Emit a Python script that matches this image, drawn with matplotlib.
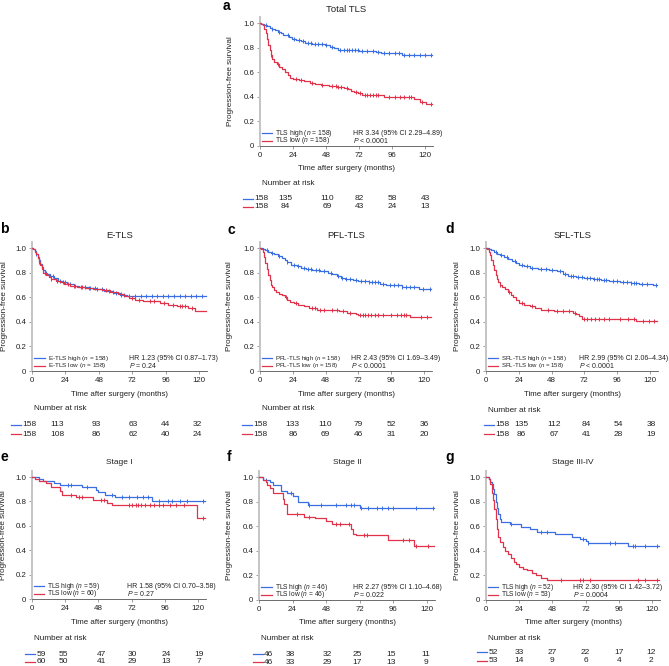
import matplotlib
matplotlib.use('Agg')
import matplotlib.pyplot as plt
import numpy as np

plt.rcParams['font.family'] = ['Liberation Sans', 'DejaVu Sans']
plt.rcParams['mathtext.fontset'] = 'custom'
plt.rcParams['mathtext.it'] = 'Liberation Sans:italic'
plt.rcParams['mathtext.rm'] = 'Liberation Sans'

# ---------------- data ----------------
a_high_t = [1, 3, 5, 7, 9, 11, 13, 15, 17, 19, 21, 23, 26, 30, 33, 38, 43, 47, 51, 54, 57, 60, 72, 84, 88, 103]
a_high_s = [0.994, 0.987, 0.975, 0.962, 0.955, 0.943, 0.930, 0.918, 0.905, 0.899, 0.886, 0.873, 0.860, 0.853,
            0.840, 0.833, 0.826, 0.819, 0.805, 0.798, 0.784, 0.777, 0.770, 0.762, 0.755, 0.740]
a_high_c = [4, 9, 14, 20, 25, 28, 31, 35, 37, 40, 42, 45, 48, 52, 58, 61, 63, 65, 67, 69, 71, 74, 78, 82, 86,
            90, 94, 98, 101, 105, 108, 112, 116, 120, 124]
a_low_t = [1, 2, 3, 4, 5, 6, 7, 8, 9, 10, 12, 14, 16, 18, 20, 22, 24, 28, 32, 36, 40, 44, 50, 56, 61, 64, 66,
           68, 71, 74, 90, 112, 116, 121]
a_low_s = [0.99, 0.98, 0.95, 0.92, 0.87, 0.82, 0.78, 0.74, 0.71, 0.68, 0.665, 0.645, 0.625, 0.60, 0.575, 0.555,
           0.545, 0.535, 0.525, 0.515, 0.505, 0.495, 0.487, 0.480, 0.470, 0.460, 0.450, 0.440, 0.430, 0.415,
           0.395, 0.38, 0.36, 0.345]
a_low_c = [8, 13, 26, 30, 38, 45, 52, 55, 57, 59, 63, 70, 73, 76, 78, 80, 82, 84, 86, 94, 98, 102, 105, 108,
           110, 118, 124]

b_high_t = [1, 2, 3, 4, 5, 6, 7, 8, 9, 11, 13, 16, 19, 22, 25, 30, 34, 40, 46, 52, 58, 63, 68]
b_high_s = [0.99, 0.975, 0.955, 0.93, 0.90, 0.87, 0.845, 0.82, 0.80, 0.785, 0.77, 0.755, 0.735, 0.72, 0.71,
            0.695, 0.685, 0.675, 0.665, 0.65, 0.635, 0.62, 0.61]
b_high_c = [3, 7, 10, 15, 20, 24, 27, 31, 35, 38, 42, 45, 50, 55, 60, 64, 66, 70, 74, 78, 82, 86, 90, 94, 98,
            102, 106, 110, 114, 118, 122]
b_low_t = [1, 2, 3, 4, 5, 6, 7, 8, 10, 12, 14, 17, 20, 23, 27, 32, 38, 44, 50, 56, 62, 66, 70, 74, 80, 92, 98,
           104, 112, 117]
b_low_s = [0.99, 0.97, 0.95, 0.92, 0.89, 0.86, 0.83, 0.80, 0.78, 0.765, 0.75, 0.735, 0.72, 0.705, 0.695, 0.685,
           0.675, 0.665, 0.655, 0.645, 0.625, 0.61, 0.595, 0.58, 0.57, 0.555, 0.54, 0.53, 0.515, 0.49]
b_low_c = [5, 9, 14, 18, 22, 26, 30, 36, 41, 47, 53, 58, 64, 72, 77, 85, 88, 95, 101, 106, 108, 110, 115]

c_high_t = [2, 4, 6, 8, 10, 13, 16, 18, 20, 23, 27, 30, 34, 38, 44, 50, 53, 56, 59, 62, 68, 72, 80, 88, 92,
            104, 116]
c_high_s = [0.99, 0.98, 0.97, 0.96, 0.95, 0.935, 0.92, 0.90, 0.885, 0.865, 0.85, 0.84, 0.83, 0.82, 0.81, 0.80,
            0.785, 0.77, 0.76, 0.75, 0.74, 0.73, 0.72, 0.71, 0.70, 0.685, 0.665]
c_high_c = [5, 9, 14, 20, 25, 28, 32, 35, 37, 41, 43, 47, 52, 57, 60, 63, 66, 70, 74, 77, 80, 82, 84, 86, 90,
            95, 98, 101, 104, 107, 110, 113, 119, 124]
c_low_t = [1, 2, 3, 4, 5, 6, 7, 8, 9, 10, 12, 14, 16, 18, 20, 22, 25, 28, 32, 36, 42, 50, 58, 64, 68, 70, 72, 110]
c_low_s = [0.99, 0.97, 0.93, 0.88, 0.83, 0.78, 0.74, 0.70, 0.68, 0.66, 0.645, 0.63, 0.615, 0.60, 0.58, 0.565,
           0.55, 0.54, 0.525, 0.51, 0.50, 0.495, 0.485, 0.475, 0.468, 0.46, 0.455, 0.44]
c_low_c = [19, 26, 38, 40, 44, 47, 53, 56, 61, 66, 73, 75, 77, 79, 81, 84, 86, 90, 96, 100, 103, 105, 107,
           118, 122]

d_high_t = [2, 4, 6, 8, 10, 13, 16, 19, 22, 24, 28, 32, 38, 46, 52, 56, 60, 66, 72, 78, 84, 90, 98, 106, 112, 122]
d_high_s = [0.99, 0.98, 0.97, 0.955, 0.94, 0.925, 0.91, 0.895, 0.88, 0.86, 0.85, 0.84, 0.83, 0.82, 0.81, 0.79,
            0.775, 0.765, 0.755, 0.75, 0.74, 0.73, 0.725, 0.715, 0.71, 0.70]
d_high_c = [7, 11, 15, 21, 26, 30, 34, 40, 44, 48, 54, 58, 62, 64, 67, 70, 74, 76, 79, 81, 83, 86, 88, 93, 96,
            100, 103, 106, 108, 110, 114, 118, 124]
d_low_t = [1, 2, 3, 4, 5, 6, 7, 8, 9, 10, 12, 14, 16, 18, 20, 22, 24, 28, 32, 36, 40, 44, 50, 58, 64, 66, 68,
           70, 110]
d_low_s = [0.99, 0.97, 0.94, 0.90, 0.86, 0.82, 0.78, 0.75, 0.72, 0.70, 0.685, 0.665, 0.645, 0.62, 0.60, 0.575,
           0.55, 0.54, 0.53, 0.51, 0.50, 0.495, 0.49, 0.485, 0.475, 0.465, 0.45, 0.425, 0.405]
d_low_c = [10, 17, 26, 34, 45, 52, 56, 61, 65, 72, 74, 77, 80, 83, 86, 90, 98, 104, 108, 115, 119, 123]

e_high_t = [5, 8, 16, 20, 36, 46, 48, 53, 60, 87]
e_high_s = [0.983, 0.966, 0.949, 0.932, 0.915, 0.895, 0.875, 0.855, 0.835, 0.80]
e_high_c = [26, 28, 40, 58, 65, 70, 76, 80, 84, 92, 98, 101, 107, 112, 124]
e_low_t = [2, 5, 10, 14, 20, 22, 32, 44, 54, 58, 119]
e_low_s = [0.983, 0.967, 0.95, 0.917, 0.883, 0.85, 0.833, 0.81, 0.79, 0.77, 0.66]
e_low_c = [28, 34, 36, 50, 52, 70, 72, 75, 77, 79, 82, 85, 88, 92, 95, 100, 104, 110, 124]

f_high_t = [3, 8, 10, 16, 20, 24, 28, 35, 72]
f_high_s = [0.978, 0.956, 0.934, 0.89, 0.868, 0.845, 0.80, 0.776, 0.745]
f_high_c = [5, 23, 36, 44, 55, 62, 66, 68, 73, 78, 84, 88, 92, 96, 112, 124]
f_low_t = [3, 5, 6, 8, 10, 17, 18, 20, 32, 40, 48, 52, 66, 67, 69, 92, 111]
f_low_s = [0.978, 0.956, 0.934, 0.912, 0.868, 0.82, 0.78, 0.70, 0.678, 0.67, 0.645, 0.62, 0.58, 0.54, 0.53,
           0.49, 0.435]
f_low_c = [27, 36, 55, 58, 64, 75, 77, 103, 107, 112, 121]

g_high_t = [2, 3, 4, 5, 6, 7, 8, 9, 10, 11, 17, 25, 32, 37, 50, 62, 68, 72, 74, 103]
g_high_s = [0.98, 0.96, 0.94, 0.90, 0.86, 0.80, 0.75, 0.70, 0.66, 0.635, 0.615, 0.595, 0.575, 0.555, 0.535,
            0.515, 0.495, 0.48, 0.465, 0.44]
g_high_c = [18, 40, 44, 70, 74, 90, 93, 106, 108, 115, 124]
g_low_t = [2, 3, 4, 5, 6, 7, 8, 9, 10, 12, 14, 16, 18, 20, 22, 24, 27, 30, 33, 36, 40, 44]
g_low_s = [0.98, 0.94, 0.87, 0.81, 0.74, 0.66, 0.58, 0.51, 0.47, 0.43, 0.40, 0.37, 0.34, 0.31, 0.29, 0.27,
           0.255, 0.24, 0.22, 0.20, 0.18, 0.16]
g_low_c = [54, 68, 70, 75, 110, 115, 124]

risk_times = [0, 24, 48, 72, 96, 120]
a_risk_hi = [158, 135, 110, 82, 58, 43]; a_risk_lo = [158, 84, 69, 43, 24, 13]
b_risk_hi = [158, 113, 93, 63, 44, 32];  b_risk_lo = [158, 108, 86, 62, 40, 24]
c_risk_hi = [158, 133, 110, 79, 52, 36]; c_risk_lo = [158, 86, 69, 46, 31, 20]
d_risk_hi = [158, 135, 112, 84, 54, 38]; d_risk_lo = [158, 86, 67, 41, 28, 19]
e_risk_hi = [59, 55, 47, 30, 24, 19];    e_risk_lo = [60, 50, 41, 29, 13, 7]
f_risk_hi = [46, 38, 32, 25, 15, 11];    f_risk_lo = [46, 33, 29, 17, 13, 9]
g_risk_hi = [52, 33, 27, 22, 17, 12];    g_risk_lo = [53, 14, 9, 6, 4, 2]

titles = ['Total TLS', 'E-TLS', 'PFL-TLS', 'SFL-TLS', 'Stage I', 'Stage II', 'Stage III-IV']
group_names = ['TLS', 'E-TLS', 'PFL-TLS', 'SFL-TLS', 'TLS', 'TLS', 'TLS']
n_hi = [158, 158, 158, 158, 59, 46, 52]
n_lo = [158, 158, 158, 158, 60, 46, 53]
hr_texts = ['HR 3.34 (95% CI 2.29–4.89)', 'HR 1.23 (95% CI 0.87–1.73)', 'HR 2.43 (95% CI 1.69–3.49)',
            'HR 2.99 (95% CI 2.06–4.34)', 'HR 1.58 (95% CI 0.70–3.58)', 'HR 2.27 (95% CI 1.10–4.68)',
            'HR 2.30 (95% CI 1.42–3.72)']
p_texts = ['< 0.0001', '= 0.24', '< 0.0001', '< 0.0001', '= 0.27', '= 0.022', '= 0.0004']

# ---------------- style / layout ----------------
W, H = 669, 666
BLUE = '#3a6fe2'
RED = '#e0334a'
END = 125
XMAX = 126

fig = plt.figure(figsize=(W / 100, H / 100), dpi=100)

def fx(px):
    return px / W

def fy(py):
    return 1 - py / H

layout = [
    dict(left=260, y1=23, y0=146, ppm=1.375, letter='a', lxy=(226, 6), hrx=67.6, ylx=231, lfs=4.9,
         ty=9, xly=169, nary=183, r1=199, r2=206.5, cols=[1, 18.5, 49, 72, 96, 120], tfs=6.8),
    dict(left=32, y1=248, y0=371, ppm=1.392, letter='b', lxy=(4, 229), hrx=70, ylx=5, lfs=4.6,
         ty=235, xly=394, nary=408.5, r1=425, r2=434, cols=[-2, 18, 46, 73, 96, 119], tfs=6.8),
    dict(left=260, y1=248, y0=371, ppm=1.367, letter='c', lxy=(231, 230), hrx=66.5, ylx=230, lfs=4.4,
         ty=235, xly=394, nary=409, r1=425, r2=434, cols=[0.4, 24, 48, 72, 96, 120], tfs=6.8),
    dict(left=486, y1=248, y0=371, ppm=1.367, letter='d', lxy=(450, 229), hrx=68, ylx=457, lfs=4.4,
         ty=235, xly=394, nary=411, r1=425, r2=434, cols=[12, 26, 50, 73.5, 96.5, 121], tfs=6.8),
    dict(left=32, y1=477, y0=599, ppm=1.383, letter='e', lxy=(4, 457), hrx=69, ylx=4, lfs=4.8,
         ty=463, xly=623, nary=639, r1=654, r2=661.5, cols=[6.5, 23, 50, 72.7, 97, 120.7], tfs=6),
    dict(left=259, y1=477, y0=600, ppm=1.4, letter='f', lxy=(229, 457), hrx=67, ylx=230, lfs=4.8,
         ty=463, xly=623, nary=639, r1=654, r2=662, cols=[7, 22, 48.6, 70, 94, 119], tfs=6),
    dict(left=486, y1=477, y0=600, ppm=1.383, letter='g', lxy=(450, 457), hrx=63, ylx=457, lfs=4.8,
         ty=463, xly=623, nary=639, r1=652, r2=661, cols=[5.5, 24, 48, 72, 96, 119], tfs=6),
]

series = [
    (a_high_t, a_high_s, a_high_c, a_low_t, a_low_s, a_low_c, a_risk_hi, a_risk_lo),
    (b_high_t, b_high_s, b_high_c, b_low_t, b_low_s, b_low_c, b_risk_hi, b_risk_lo),
    (c_high_t, c_high_s, c_high_c, c_low_t, c_low_s, c_low_c, c_risk_hi, c_risk_lo),
    (d_high_t, d_high_s, d_high_c, d_low_t, d_low_s, d_low_c, d_risk_hi, d_risk_lo),
    (e_high_t, e_high_s, e_high_c, e_low_t, e_low_s, e_low_c, e_risk_hi, e_risk_lo),
    (f_high_t, f_high_s, f_high_c, f_low_t, f_low_s, f_low_c, f_risk_hi, f_risk_lo),
    (g_high_t, g_high_s, g_high_c, g_low_t, g_low_s, g_low_c, g_risk_hi, g_risk_lo),
]


def km(ax, t, s, cens, color):
    xs = [0] + list(t) + [END]
    ys = [1.0] + list(s) + [s[-1]]
    ax.step(xs, ys, where='post', color=color, lw=0.9, clip_on=False, zorder=3)
    tt = np.array(t)
    ss = np.array(s)
    cy = []
    for c in cens:
        k = np.searchsorted(tt, c, side='right')
        cy.append(1.0 if k == 0 else ss[k - 1])
    ax.plot(cens, cy, ls='none', marker='|', ms=3.2, mew=0.7, color=color, clip_on=False, zorder=3)


for i, (L, S) in enumerate(zip(layout, series)):
    ppu = L['y0'] - L['y1']
    top = L['y0'] - ppu * 1.05
    width = L['ppm'] * XMAX
    height = L['y0'] - top
    ax = fig.add_axes([fx(L['left']), fy(L['y0']), width / W, height / H])
    ax.set_xlim(0, XMAX)
    ax.set_ylim(0, 1.05)
    for sp in ['top', 'right']:
        ax.spines[sp].set_visible(False)
    ax.spines['left'].set_color('#c4c4c4')
    ax.spines['left'].set_linewidth(1.4)
    ax.spines['bottom'].set_color('#555555')
    ax.spines['bottom'].set_linewidth(0.6)
    ax.set_xticks(risk_times)
    ax.set_xticklabels([str(v) for v in risk_times])
    ax.set_yticks([0, 0.2, 0.4, 0.6, 0.8, 1.0])
    ax.set_yticklabels(['0', '0.2', '0.4', '0.6', '0.8', '1.0'])
    ax.tick_params(axis='both', labelsize=5.7, length=2, width=0.5, color='#777777', pad=2,
                   labelcolor='#222222')
    ax.patch.set_alpha(0)

    ht, hs, hc, lt, ls_, lc, rh, rl = S
    km(ax, ht, hs, hc, BLUE)
    km(ax, lt, ls_, lc, RED)

    g = group_names[i]
    for yv, col, lab, stat in [
        (0.105, BLUE, g + r' high ($n$ = %d)' % n_hi[i], hr_texts[i]),
        (0.042, RED, g + r' low ($n$ = %d)' % n_lo[i], r'$P$ ' + p_texts[i]),
    ]:
        ax.plot([1.5, 9.0], [yv, yv], color=col, lw=0.9, clip_on=False)
        ax.text(11.2, yv, lab, fontsize=L['lfs'], va='center', ha='left', color='#222222')
        ax.text(L['hrx'], yv, stat, fontsize=5.0, va='center', ha='left', color='#222222')

    cx = L['left'] + width / 2
    fig.text(fx(cx), fy(L['ty']), titles[i], fontsize=L['tfs'], ha='center', va='center', color='#222222')
    fig.text(fx(cx), fy(L['xly']), 'Time after surgery (months)', fontsize=5.7, ha='center', va='center',
             color='#222222')
    fig.text(fx(L['ylx']), fy((top + L['y0']) / 2), 'Progression-free survival', fontsize=5.9,
             rotation=90, ha='center', va='center', color='#222222')
    fig.text(fx(L['lxy'][0]), fy(L['lxy'][1]), L['letter'], fontsize=10, fontweight='bold',
             ha='center', va='center', color='black')

    fig.text(fx(L['left'] + 1.5 * L['ppm']), fy(L['nary']), 'Number at risk', fontsize=5.9,
             ha='left', va='center', color='#222222')
    for ry, vals, col in [(L['r1'], rh, BLUE), (L['r2'], rl, RED)]:
        for j, (cpos, v) in enumerate(zip(L['cols'], vals)):
            px = L['left'] + cpos * L['ppm']
            fig.text(fx(px), fy(ry), str(v), fontsize=6, ha='center', va='center', color='#222222')
            if j == 0:
                half = len(str(v)) * 2.35
                xr = px - half - 1.5
                fig.add_artist(plt.Line2D([fx(xr - 10), fx(xr)], [fy(ry), fy(ry)], color=col, lw=0.9,
                                          transform=fig.transFigure))

fig.savefig('out.png', dpi=100)
